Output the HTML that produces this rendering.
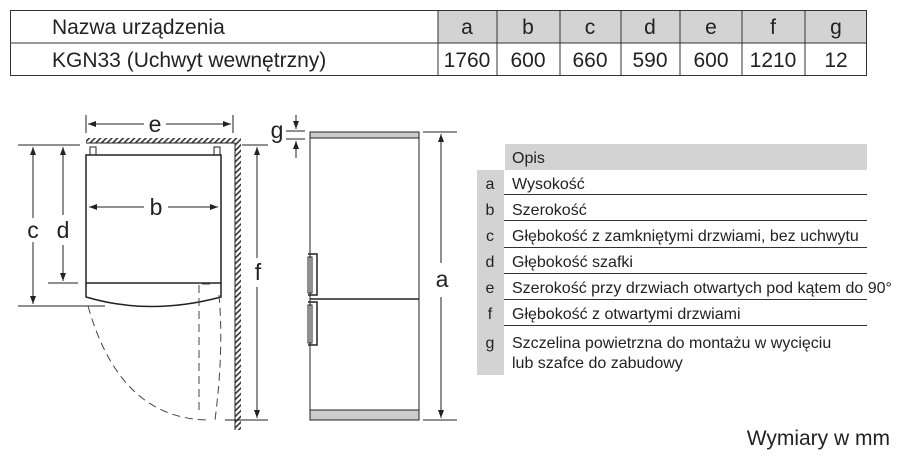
<!DOCTYPE html>
<html><head><meta charset="utf-8"><style>
body{margin:0;background:#fff;width:905px;height:460px;overflow:hidden}
svg{display:block;font-family:"Liberation Sans",sans-serif}
</style></head><body>
<svg width="905" height="460" viewBox="0 0 905 460">
<defs>
<pattern id="h" width="4" height="4" patternUnits="userSpaceOnUse" patternTransform="rotate(45)"><rect width="1.6" height="4" fill="#333"/></pattern>
<marker id="ar" markerWidth="8" markerHeight="6" refX="8" refY="3" orient="auto" markerUnits="userSpaceOnUse"><path d="M0,0L8,3L0,6z" fill="#222"/></marker>
</defs>
<rect x="438" y="10" width="429" height="33" fill="#d3d3d3"/>
<rect x="10.5" y="10.5" width="856" height="65" fill="none" stroke="#333"/>
<line x1="10" y1="43" x2="867" y2="43" stroke="#333"/>
<g stroke="#333">
<line x1="438" y1="10" x2="438" y2="76"/><line x1="497" y1="10" x2="497" y2="76"/><line x1="560" y1="10" x2="560" y2="76"/><line x1="621" y1="10" x2="621" y2="76"/><line x1="680" y1="10" x2="680" y2="76"/><line x1="742" y1="10" x2="742" y2="76"/><line x1="805" y1="10" x2="805" y2="76"/>
</g>
<g font-size="21" fill="#222">
<text x="52" y="34">Nazwa urządzenia</text>
<text x="52" y="67">KGN33 (Uchwyt wewnętrzny)</text>
<g text-anchor="middle">
<text x="467" y="34">a</text><text x="528" y="34">b</text><text x="590" y="34">c</text><text x="650" y="34">d</text><text x="711" y="34">e</text><text x="773" y="34">f</text><text x="836" y="34">g</text>
<text x="467" y="67">1760</text><text x="528" y="67">600</text><text x="590" y="67">660</text><text x="650" y="67">590</text><text x="711" y="67">600</text><text x="773" y="67">1210</text><text x="836" y="67">12</text>
</g></g>
<g stroke="#222" fill="none" stroke-width="1">
<rect x="86" y="138" width="155" height="5" fill="url(#h)" stroke="none"/>
<rect x="235" y="143" width="6" height="287" fill="url(#h)" stroke="none"/>
<path d="M86,143H235V430"/>
<line x1="86" y1="115" x2="86" y2="133"/><line x1="233" y1="115" x2="233" y2="133"/>
<path d="M144,124H88" marker-end="url(#ar)"/><path d="M166,124H231" marker-end="url(#ar)"/>
<rect x="90" y="147" width="6" height="8"/><rect x="214" y="147" width="6" height="8"/>
<rect x="86" y="155" width="135" height="128" stroke-width="1.5"/>
<path d="M86,283V297Q150,316 221,297V283" stroke-width="1.5"/>
<path d="M144,207H89" marker-end="url(#ar)"/><path d="M168,207H218" marker-end="url(#ar)"/>
<line x1="18" y1="145" x2="80" y2="145"/><line x1="18" y1="306" x2="105" y2="306"/><line x1="48" y1="283" x2="78" y2="283"/>
<path d="M33,218V147" marker-end="url(#ar)"/><path d="M33,242V304" marker-end="url(#ar)"/>
<path d="M63,215V147" marker-end="url(#ar)"/><path d="M63,245V281" marker-end="url(#ar)"/>
<line x1="242" y1="145" x2="268" y2="145"/><line x1="225" y1="420" x2="268" y2="420"/>
<path d="M257,258V147" marker-end="url(#ar)"/><path d="M257,287V418" marker-end="url(#ar)"/>
<g stroke-dasharray="8,5" stroke="#444">
<path d="M88,306Q120,420 210,420"/>
<path d="M199,285V415"/><path d="M219,295Q224,350 215,420"/><path d="M202,284H214"/>
</g>
</g>
<g font-size="23" fill="#222" text-anchor="middle">
<text x="155" y="132">e</text><text x="156" y="215">b</text><text x="33" y="238">c</text><text x="63" y="238">d</text><text x="258" y="280">f</text>
<text x="277" y="138">g</text><text x="442" y="287">a</text>
</g>
<g stroke="#222" fill="none">
<rect x="310" y="132" width="109" height="6" fill="#ccc"/>
<rect x="310" y="410" width="109" height="10" fill="#ccc"/>
<rect x="310" y="132" width="109" height="288"/>
<line x1="310" y1="299" x2="419" y2="299" stroke-width="1.5"/>
<path d="M308,254H317V295H308" stroke-width="1.5"/><rect x="308" y="257" width="4" height="36"/>
<path d="M308,302H317V345H308" stroke-width="1.5"/><rect x="308" y="305" width="4" height="38"/>
<line x1="286" y1="131" x2="305" y2="131"/><line x1="286" y1="139" x2="305" y2="139"/>
<path d="M296,115V129" marker-end="url(#ar)"/><path d="M296,158V141" marker-end="url(#ar)"/>
<line x1="423" y1="132" x2="457" y2="132"/><line x1="423" y1="420" x2="457" y2="420"/>
<path d="M441,263V134" marker-end="url(#ar)"/><path d="M441,297V418" marker-end="url(#ar)"/>
</g>
<rect x="505" y="144" width="362" height="26" fill="#d3d3d3"/>
<rect x="477" y="170" width="27" height="205" fill="#d3d3d3"/>
<g stroke="#333"><line x1="504" y1="194.5" x2="867" y2="194.5"/><line x1="504" y1="220.5" x2="867" y2="220.5"/><line x1="504" y1="247.5" x2="867" y2="247.5"/><line x1="504" y1="273.5" x2="867" y2="273.5"/><line x1="504" y1="299.5" x2="867" y2="299.5"/><line x1="504" y1="325.5" x2="867" y2="325.5"/></g>
<g font-size="16" fill="#222">
<text x="512" y="163">Opis</text>
<text x="512" y="189">Wysokość</text>
<text x="512" y="215">Szerokość</text>
<text x="512" y="241">Głębokość z zamkniętymi drzwiami, bez uchwytu</text>
<text x="512" y="267">Głębokość szafki</text>
<text x="512" y="293">Szerokość przy drzwiach otwartych pod kątem do 90°</text>
<text x="512" y="319">Głębokość z otwartymi drzwiami</text>
<text x="512" y="348">Szczelina powietrzna do montażu w wycięciu</text>
<text x="512" y="368">lub szafce do zabudowy</text>
<g text-anchor="middle"><text x="490" y="189">a</text><text x="490" y="215">b</text><text x="490" y="241">c</text><text x="490" y="267">d</text><text x="490" y="293">e</text><text x="490" y="319">f</text><text x="490" y="348">g</text></g>
</g>
<text x="890" y="445" font-size="21" fill="#222" text-anchor="end">Wymiary w mm</text>
</svg>
</body></html>
